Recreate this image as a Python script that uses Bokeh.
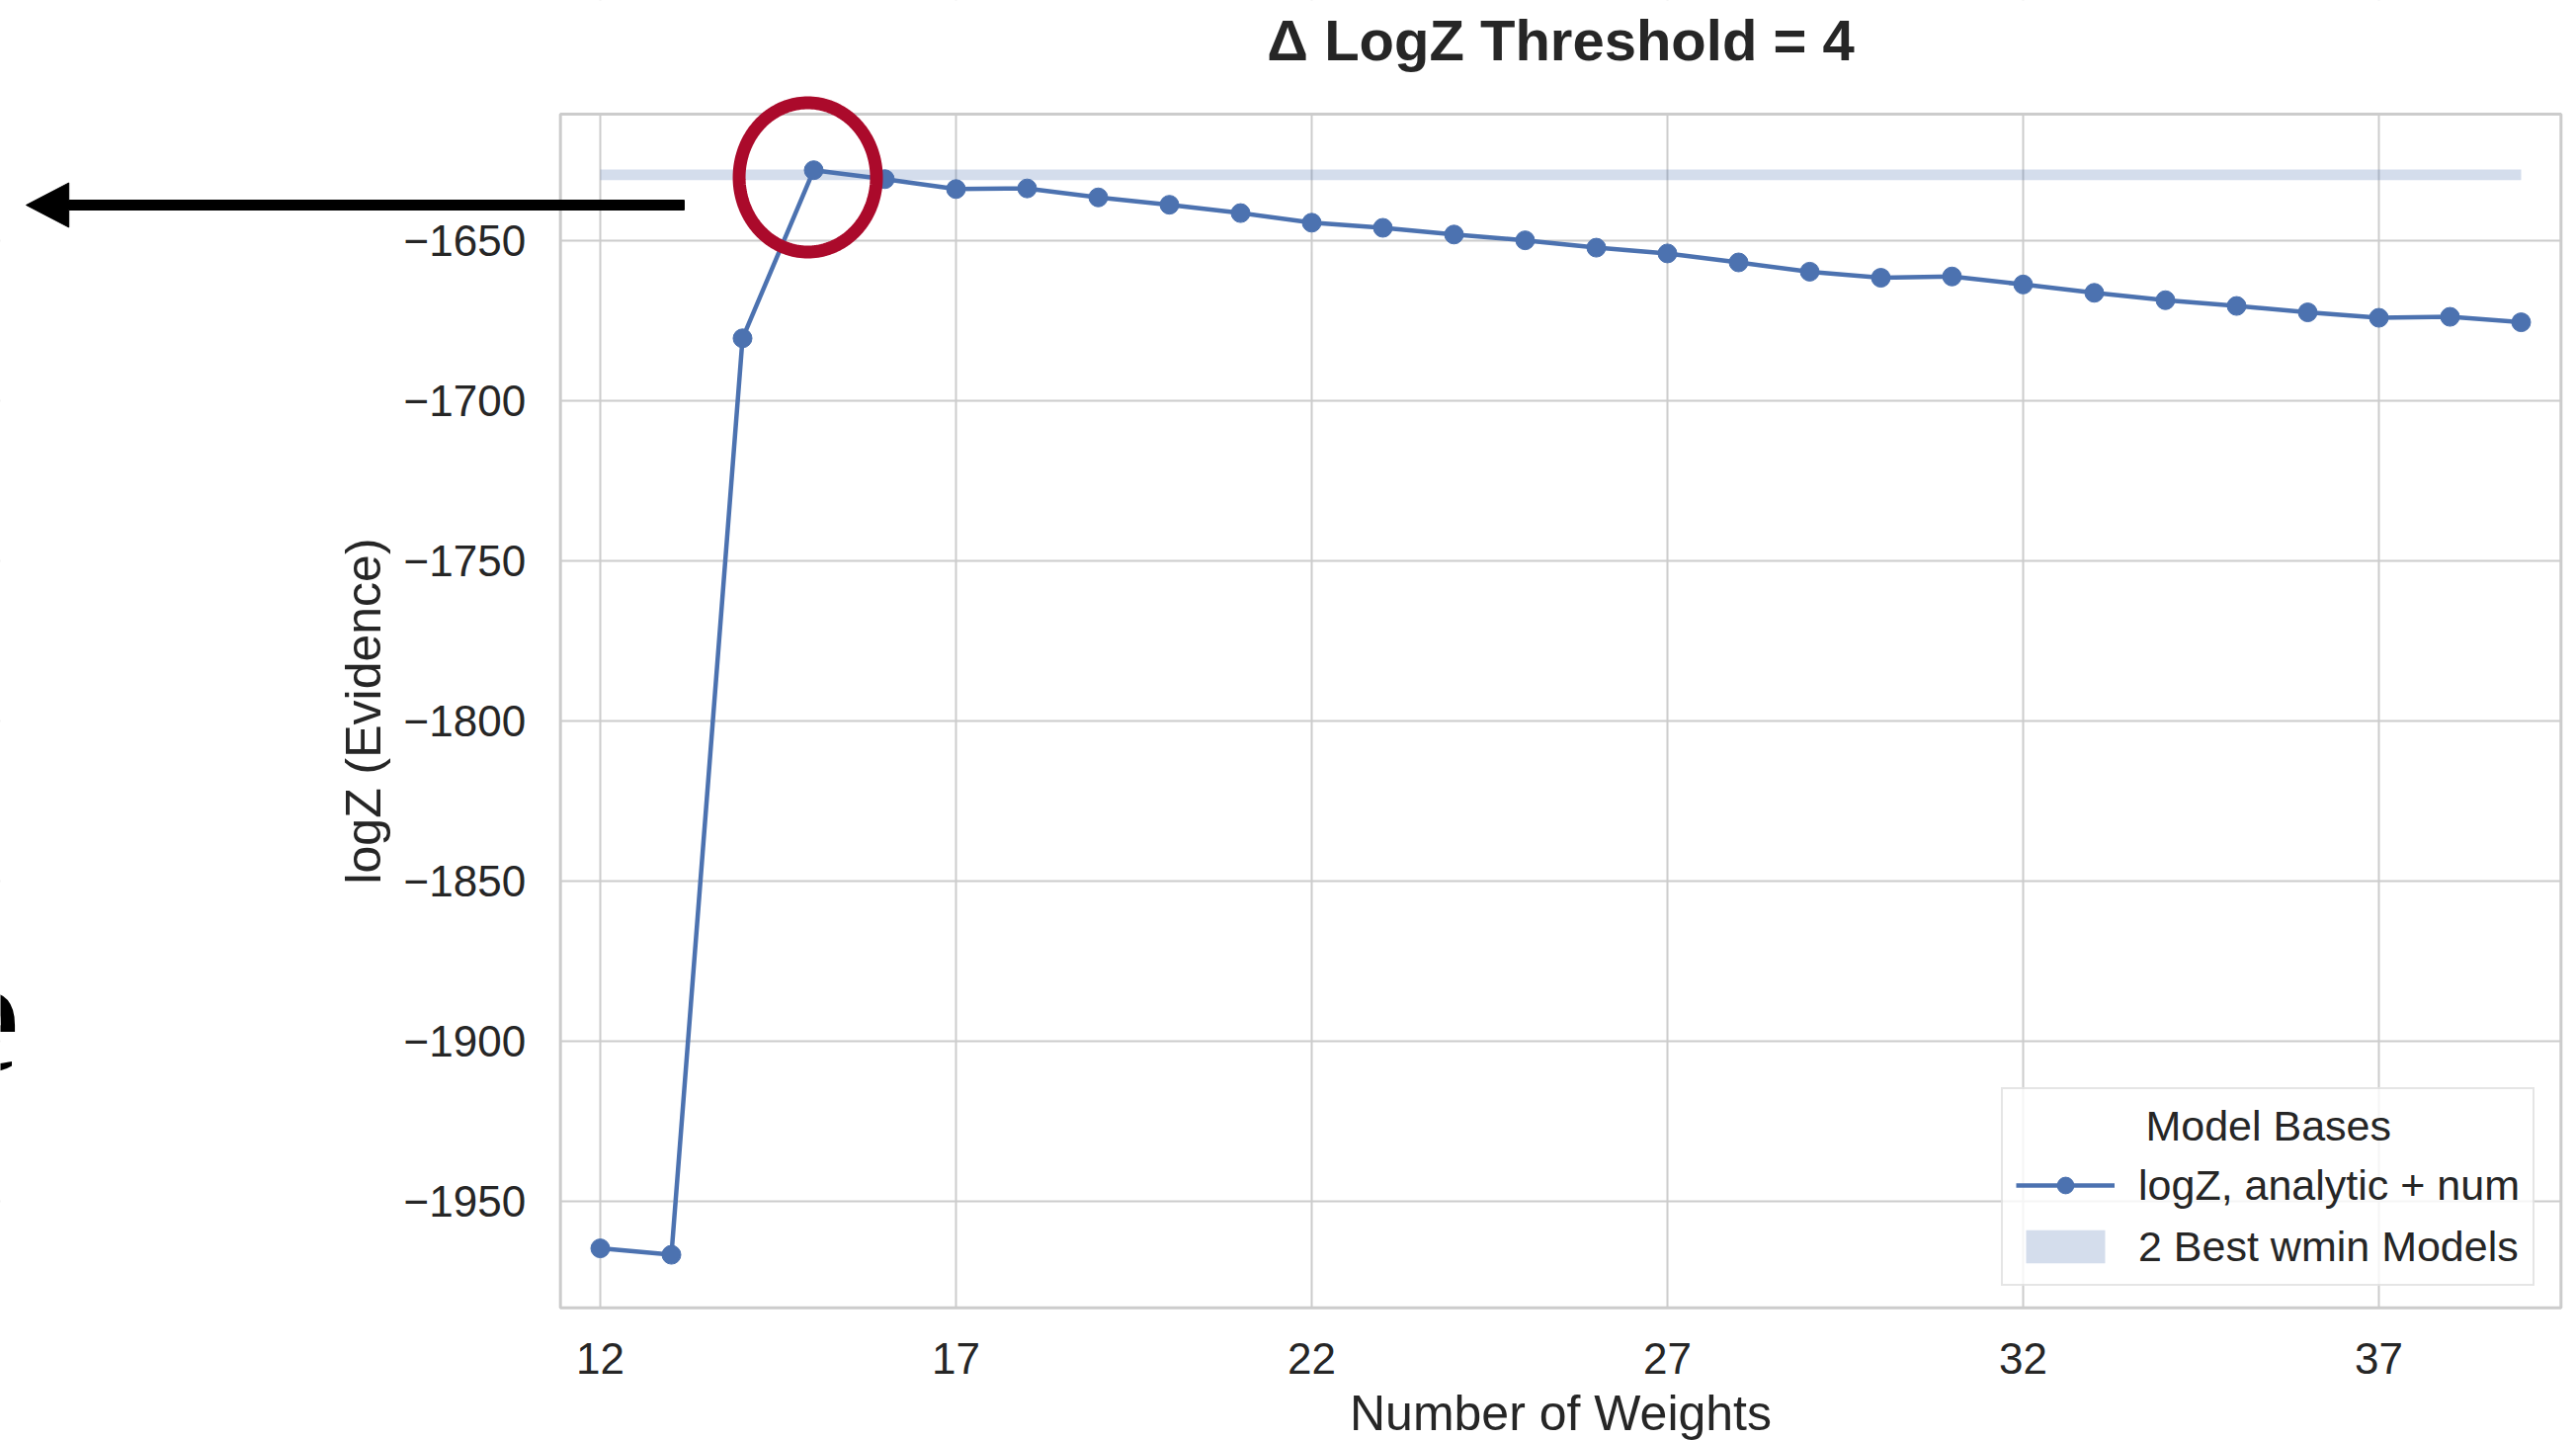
import numpy as np
from bokeh.plotting import figure
from bokeh.models import (Range1d, FixedTicker, Legend, LegendItem, PolyAnnotation, Label,
                          BoxAnnotation)
from bokeh.embed import file_html
from bokeh.resources import INLINE

# ---- data ----
n_weights = [12, 13, 14, 15, 16, 17, 18, 19, 20, 21, 22, 23, 24, 25, 26, 27, 28, 29, 30,
             31, 32, 33, 34, 35, 36, 37, 38, 39]
logz = [-1964.7, -1966.7, -1680.5, -1628.0, -1630.8, -1633.9, -1633.7, -1636.5, -1638.8,
        -1641.4, -1644.4, -1646.0, -1648.1, -1649.9, -1652.2, -1654.0, -1656.8, -1659.7,
        -1661.6, -1661.2, -1663.7, -1666.3, -1668.6, -1670.4, -1672.4, -1674.1, -1673.8,
        -1675.5]
band_x = [12, 39]
band_low = -1631.1
band_high = -1627.8
xticks = [12, 17, 22, 27, 32, 37]
yticks = [-1950, -1900, -1850, -1800, -1750, -1700, -1650]
ytick_labels = ["\u22121950", "\u22121900", "\u22121850", "\u22121800", "\u22121750",
                "\u22121700", "\u22121650"]

# chart box (axes area) in data units
X0, X1 = 11.44, 39.56
Y0, Y1 = -1983.3, -1610.5

BLUE = "#4C72B0"
TXT = "#262626"
GRID = "#CCCCCC"
FONT = "Liberation Sans"

# the frame spans the whole slide so that the slide annotations are not clipped
p = figure(width=2607, height=1457, output_backend="svg", toolbar_location=None,
           x_range=Range1d(3.5694, 39.7778), y_range=Range1d(-2024.70, -1575.01),
           min_border=0)
p.background_fill_color = "white"
p.border_fill_color = "white"
p.outline_line_color = None

# axes pinned to the chart box edges
for ax in (p.xaxis[0], p.yaxis[0]):
    ax.axis_line_color = None
    ax.major_tick_line_color = None
    ax.minor_tick_line_color = None
    ax.major_tick_out = 0
    ax.major_tick_in = 0
    ax.major_label_text_font = FONT
    ax.major_label_text_font_size = "44px"
    ax.major_label_text_color = TXT
    ax.axis_label_text_font = FONT
    ax.axis_label_text_font_size = "50px"
    ax.axis_label_text_font_style = "normal"
    ax.axis_label_text_color = TXT
p.xaxis.fixed_location = Y0
p.yaxis.fixed_location = X0
p.xaxis.bounds = (X0, X1)
p.yaxis.bounds = (Y0, Y1)

p.xaxis.ticker = FixedTicker(ticks=xticks)
p.yaxis.ticker = FixedTicker(ticks=yticks)
p.yaxis.major_label_overrides = {t: s for t, s in zip(yticks, ytick_labels)}
p.xaxis.axis_label = "Number of Weights"
p.yaxis.axis_label = "logZ (Evidence)"
p.xaxis.major_label_standoff = 36
p.yaxis.major_label_standoff = 35
p.xaxis.axis_label_standoff = 8
p.yaxis.axis_label_standoff = 10

p.grid.grid_line_color = GRID
p.grid.grid_line_width = 2

# keep grid lines inside the chart box, then draw its border
for kw in (dict(right=X0), dict(left=X1), dict(top=Y0), dict(bottom=Y1)):
    p.add_layout(BoxAnnotation(fill_color="white", fill_alpha=1, line_color=None,
                               level="underlay", **kw))
p.add_layout(BoxAnnotation(left=X0, right=X1, bottom=Y0, top=Y1, fill_alpha=0,
                           line_color=GRID, line_alpha=1, line_width=3, level="underlay"))

# title
p.add_layout(Label(x=(X0 + X1) / 2, y=-1587.3, text="\u0394 LogZ Threshold = 4",
                   text_font=FONT, text_font_size="58px", text_font_style="bold",
                   text_color=TXT, text_align="center", text_baseline="alphabetic"))

# band of 2 best models
band_r = p.varea(x=band_x, y1=[band_low, band_low], y2=[band_high, band_high],
                 fill_color=BLUE, fill_alpha=0.24)

# main line + markers
line_r = p.line(n_weights, logz, line_color=BLUE, line_width=4.5)
pts_r = p.scatter(n_weights, logz, size=19, fill_color=BLUE, line_color=BLUE, line_width=1)

NB = "\u00a0"
legend = Legend(items=[LegendItem(label="logZ, analytic + num", renderers=[line_r, pts_r]),
                       LegendItem(label="2 Best wmin Models", renderers=[band_r])],
                location=(2025, 156))
legend.title = NB * 11 + "Model Bases"
legend.title_text_font = FONT
legend.title_text_font_size = "43px"
legend.title_text_font_style = "normal"
legend.title_text_color = TXT
legend.label_text_font = FONT
legend.label_text_font_size = "43px"
legend.label_text_color = TXT
legend.glyph_width = 100
legend.glyph_height = 42
legend.label_standoff = 24
legend.label_height = 50
legend.spacing = 12
legend.padding = 13
legend.title_standoff = 10
legend.margin = 0
legend.border_line_color = GRID
legend.border_line_width = 2
legend.background_fill_color = "white"
legend.background_fill_alpha = 0.8
p.add_layout(legend)

# ---- slide annotations (arrow, red ellipse, cut-off letter) ----
arrow_tip_x, arrow_head_x, arrow_tail_x = 3.93, 4.53, 13.18
arrow_y, arrow_half, head_half = -1638.9, 1.54, 6.94
p.add_layout(PolyAnnotation(
    xs=[arrow_tip_x, arrow_head_x, arrow_head_x, arrow_tail_x, arrow_tail_x, arrow_head_x, arrow_head_x],
    ys=[arrow_y, arrow_y + head_half, arrow_y + arrow_half, arrow_y + arrow_half,
        arrow_y - arrow_half, arrow_y - arrow_half, arrow_y - head_half],
    fill_color="black", fill_alpha=1, line_color="black", line_alpha=1, line_width=1))

ell_cx, ell_cy, ell_a, ell_b = 14.917, -1630.25, 0.965, 23.3
theta = np.linspace(0, 2 * np.pi, 181)
p.add_layout(PolyAnnotation(xs=list(ell_cx + ell_a * np.cos(theta)),
                            ys=list(ell_cy + ell_b * np.sin(theta)),
                            fill_alpha=0, line_color="#AB0A2B", line_alpha=1, line_width=13))

p.add_layout(Label(x=2.806, y=-1892.0, text="e", text_font="Liberation Serif",
                   text_font_size="170px", text_color="black", text_baseline="alphabetic"))

open("out.html", "w").write(file_html(p, INLINE))
